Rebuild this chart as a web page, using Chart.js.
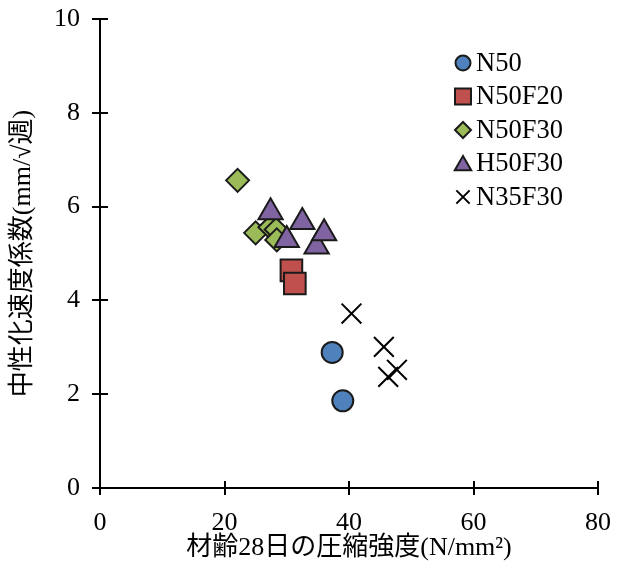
<!DOCTYPE html>
<html>
<head>
<meta charset="utf-8">
<script src="https://cdn.jsdelivr.net/npm/chart.js@4/dist/chart.umd.min.js"></script>
<style>
  html, body { margin: 0; padding: 0; background: #fff; }
  canvas { display: block; }
</style>
</head>
<body>
<canvas id="chart" width="621" height="564"></canvas>
<script>
// データ（材齢28日の圧縮強度, 中性化速度係数）
const seriesNames = ['N50', 'N50F20', 'N50F30', 'H50F30', 'N35F30'];

const n50X = [37.3, 39.0];
const n50Y = [2.89, 1.86];

const n50f20X = [30.75, 31.3];
const n50f20Y = [4.64, 4.36];

const n50f30X = [22.1, 25.0, 27.3, 28.3, 28.4];
const n50f30Y = [6.56, 5.44, 5.56, 5.51, 5.29];

const h50f30X = [27.4, 32.5, 34.8, 36.0, 30.0];
const h50f30Y = [5.88, 5.67, 5.15, 5.43, 5.29];

const n35f30X = [40.4, 45.6, 46.3, 47.7];
const n35f30Y = [3.72, 3.01, 2.37, 2.52];

const xTicks = [0, 20, 40, 60, 80];
const yTicks = [0, 2, 4, 6, 8, 10];

const FONT = '"Liberation Serif", "Noto Sans CJK JP", serif';

function toPoints(xs, ys) {
  return xs.map((x, i) => ({ x: x, y: ys[i] }));
}

// 軸をまたぐ目盛り線
const crossTicks = {
  id: 'crossTicks',
  afterDraw(chart) {
    const { ctx, chartArea, scales } = chart;
    ctx.save();
    ctx.strokeStyle = '#000';
    ctx.lineWidth = 2;
    ctx.beginPath();
    xTicks.forEach(v => {
      const px = Math.round(scales.x.getPixelForValue(v));
      ctx.moveTo(px, chartArea.bottom - 7);
      ctx.lineTo(px, chartArea.bottom + 7);
    });
    yTicks.forEach(v => {
      const py = Math.round(scales.y.getPixelForValue(v));
      ctx.moveTo(chartArea.left - 8, py);
      ctx.lineTo(chartArea.left + 8, py);
    });
    ctx.stroke();
    ctx.restore();
  }
};

// 凡例（グラフ内右上）
const legendRadius = [7.5, 11.3, 8, 9.5, 9.4];
const seriesLegend = {
  id: 'seriesLegend',
  afterDraw(chart) {
    const ctx = chart.ctx;
    const lx = 463, ly = 63, gap = 33.5;
    chart.data.datasets.forEach((ds, i) => {
      const yy = ly + i * gap + (ds.pointStyle === 'triangle' ? 2 : 0);
      ctx.save();
      ctx.fillStyle = ds.backgroundColor;
      ctx.strokeStyle = ds.borderColor;
      ctx.lineWidth = ds.borderWidth;
      Chart.helpers.drawPoint(ctx, {
        pointStyle: ds.pointStyle,
        radius: legendRadius[i],
        borderWidth: ds.borderWidth,
        rotation: 0
      }, lx, yy);
      ctx.restore();

      ctx.save();
      ctx.fillStyle = '#000';
      ctx.font = '26.5px ' + FONT;
      ctx.textAlign = 'left';
      ctx.textBaseline = 'middle';
      ctx.fillText(ds.label, 476, ly + i * gap + 1);
      ctx.restore();
    });
  }
};

const ctx = document.getElementById('chart').getContext('2d');
new Chart(ctx, {
  type: 'scatter',
  data: {
    datasets: [
      {
        label: seriesNames[0],
        data: toPoints(n50X, n50Y),
        pointStyle: 'circle',
        pointRadius: 10.5,
        backgroundColor: '#4F81BD',
        borderColor: '#1a1a1a',
        borderWidth: 2
      },
      {
        label: seriesNames[1],
        data: toPoints(n50f20X, n50f20Y),
        pointStyle: 'rect',
        pointRadius: 15.3,
        backgroundColor: '#C0504D',
        borderColor: '#1a1a1a',
        borderWidth: 2
      },
      {
        label: seriesNames[2],
        data: toPoints(n50f30X, n50f30Y),
        pointStyle: 'rectRot',
        pointRadius: 11.5,
        backgroundColor: '#9BBB59',
        borderColor: '#1a1a1a',
        borderWidth: 2,
        order: 1
      },
      {
        label: seriesNames[3],
        data: toPoints(h50f30X, h50f30Y),
        pointStyle: 'triangle',
        pointRadius: 14,
        backgroundColor: '#8064A2',
        borderColor: '#1a1a1a',
        borderWidth: 2
      },
      {
        label: seriesNames[4],
        data: toPoints(n35f30X, n35f30Y),
        pointStyle: 'crossRot',
        pointRadius: 14,
        backgroundColor: '#000',
        borderColor: '#000',
        borderWidth: 2
      }
    ]
  },
  options: {
    responsive: false,
    animation: false,
    devicePixelRatio: 1,
    layout: { padding: { top: 19, right: 23, left: 0, bottom: 0 } },
    plugins: {
      legend: { display: false },
      tooltip: { enabled: false }
    },
    scales: {
      x: {
        type: 'linear',
        min: 0,
        max: 80,
        afterFit: s => { s.height = 76; s.paddingLeft = 0; s.paddingRight = 0; },
        afterBuildTicks: s => { s.ticks = xTicks.map(v => ({ value: v })); },
        grid: { display: false, drawTicks: false },
        border: { display: true, color: '#000', width: 2 },
        ticks: { padding: 20, color: '#000', font: { family: FONT, size: 26 } },
        title: {
          display: true,
          text: '材齢28日の圧縮強度(N/mm²)',
          color: '#000',
          font: { family: FONT, size: 26 },
          padding: { top: 0, bottom: 0 }
        }
      },
      y: {
        type: 'linear',
        min: 0,
        max: 10,
        afterFit: s => { s.width = 100; s.paddingTop = 0; s.paddingBottom = 0; },
        afterBuildTicks: s => { s.ticks = yTicks.map(v => ({ value: v })); },
        grid: { display: false, drawTicks: false },
        border: { display: true, color: '#000', width: 2 },
        ticks: { padding: 20, color: '#000', font: { family: FONT, size: 26 } },
        title: {
          display: true,
          text: '中性化速度係数(mm/√週)',
          color: '#000',
          font: { family: FONT, size: 26 },
          padding: { top: 8, bottom: 0 }
        }
      }
    }
  },
  plugins: [crossTicks, seriesLegend]
});
</script>
</body>
</html>
